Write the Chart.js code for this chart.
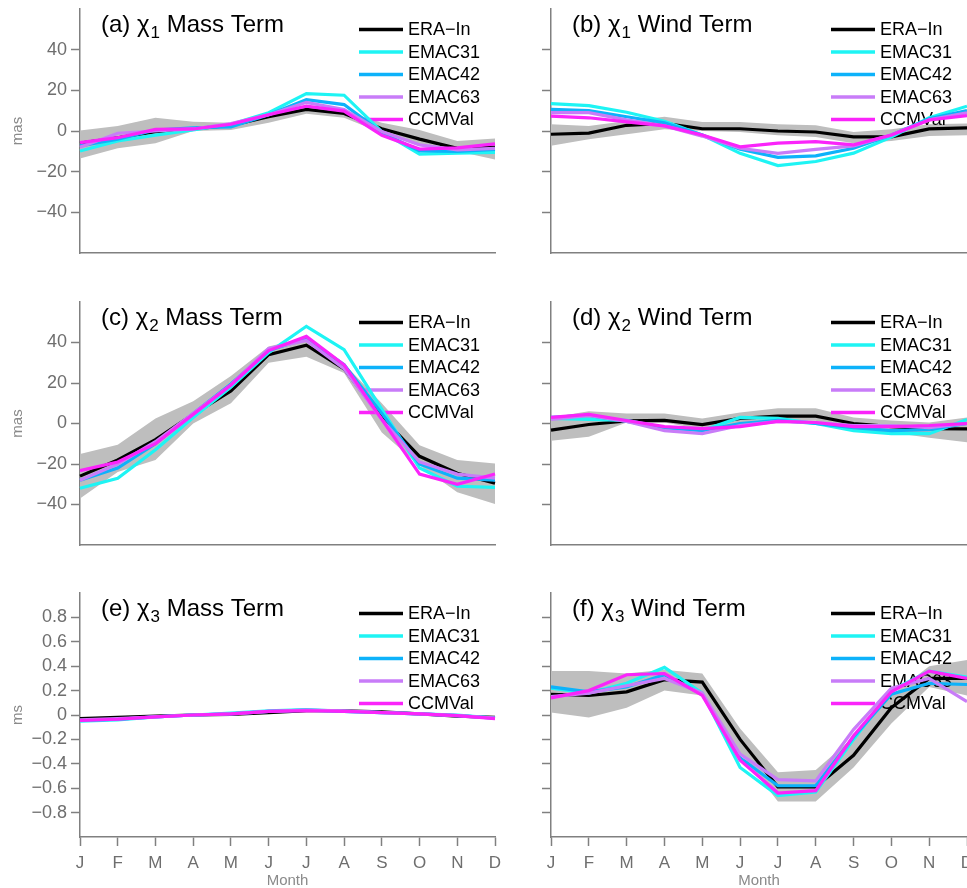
<!DOCTYPE html>
<html>
<head>
<meta charset="utf-8">
<title>χ Mass / Wind Term</title>
<script src="https://cdn.jsdelivr.net/npm/chart.js@4.4.1/dist/chart.umd.min.js"></script>
<style>
    html, body { margin: 0; padding: 0; background: #fff; }
    #wrap { position: relative; width: 967px; height: 888px; overflow: hidden; }
    #wrap canvas { position: absolute; }
</style>
</head>
<body>
<div id="wrap">
    <canvas id="chartA"></canvas>
    <canvas id="chartB"></canvas>
    <canvas id="chartC"></canvas>
    <canvas id="chartD"></canvas>
    <canvas id="chartE"></canvas>
    <canvas id="chartF"></canvas>
</div>
<script>
// Месяцы по оси X
const months = ['J', 'F', 'M', 'A', 'M', 'J', 'J', 'A', 'S', 'O', 'N', 'D'];
const seriesNames = ['ERA−In', 'EMAC31', 'EMAC42', 'EMAC63', 'CCMVal'];

// Деления по оси Y и пределы
const masTicks = [-40, -20, 0, 20, 40];
const masRange = [-60, 60];
const msTicks = [-0.8, -0.6, -0.4, -0.2, 0, 0.2, 0.4, 0.6, 0.8];
const msRange = [-1, 1];

// (a) χ1, массовый член
const chi1MassEra = [-6, -3.3, -0.3, 1, 2.8, 7, 10.6, 8.6, 1.1, -4, -8.5, -8];
const chi1MassEraHi = [0.3, 2.5, 6.5, 4.5, 4, 8.5, 12, 10, 4, 0.5, -4.9, -3.7];
const chi1MassEraLo = [-13.5, -8.5, -6, 0, 0.5, 4, 8.5, 6.5, -1, -7, -10, -14];
const chi1MassEmac31 = [-9.8, -4.9, -2, 0.5, 3.3, 9, 18.4, 17.6, -0.3, -11.4, -10.9, -10.5];
const chi1MassEmac42 = [-7.3, -4, 0.5, 1.6, 2, 8, 15.4, 13, -0.8, -9.8, -10, -9];
const chi1MassEmac63 = [-8, -1.1, 0, 1, 3.6, 8, 14.1, 10.6, -0.3, -6.8, -9.3, -8.5];
const chi1MassCcmval = [-5.7, -3.3, 0.8, 1, 3.3, 8, 12.2, 9.8, -2.1, -8.9, -8.3, -6.3];

// (b) χ1, ветровой член
const chi1WindEra = [-1.6, -1, 2.8, 3.7, 1.1, 1.1, 0, -0.5, -2.9, -2.9, 1, 1.5];
const chi1WindEraHi = [3.3, 2.4, 4.9, 7, 4.4, 4.4, 3.3, 2.8, -0.5, 0.8, 3.3, 3.7];
const chi1WindEraLo = [-7.3, -4.1, -1.6, 0.8, 0, -0.5, -2.1, -2.9, -6, -4.9, -2.4, -2.1];
const chi1WindEmac31 = [13.5, 12.5, 9.2, 4.8, -2, -11, -17, -15, -10.9, -3, 6.5, 12.2];
const chi1WindEmac42 = [10.6, 10, 7, 4, -2, -9, -13, -12.2, -8.5, -2, 6, 10];
const chi1WindEmac63 = [9, 9, 5.5, 2.5, -2.5, -8.5, -11, -9, -7.3, -2, 5.5, 9];
const chi1WindCcmval = [7.3, 6.5, 4.5, 2.5, -2, -7.8, -6, -5.2, -6.8, -2, 5.4, 7.6];

// (c) χ2, массовый член
const chi2MassEra = [-26, -18, -8, 4.5, 16, 34, 38.7, 27, 3, -16.2, -24.6, -29.5];
const chi2MassEraHi = [-15, -10.5, 2.5, 11, 23.5, 38, 42.5, 29.5, 10, -10.7, -18, -19.7];
const chi2MassEraLo = [-37, -24, -18, 0, 10, 30, 33, 25, -4.5, -20.8, -34, -39.7];
const chi2MassEmac31 = [-32, -27, -13, 3, 18, 35, 48, 36.5, 7, -22, -31, -31.5];
const chi2MassEmac42 = [-28, -22, -10, 5, 19.5, 36, 42, 29, 5, -20, -27, -28];
const chi2MassEmac63 = [-28, -20, -9, 5, 19, 37, 41, 27, 2, -19, -25, -27];
const chi2MassCcmval = [-23.3, -19, -10, 4.5, 19, 36, 43, 29, 2, -25, -30, -24.9];

// (d) χ2, ветровой член
const chi2WindEra = [-3.3, -0.5, 1.3, 1.5, -0.5, 2.5, 3.6, 3.6, 0, -1.5, -2.5, -2.7];
const chi2WindEraHi = [3, 6, 5, 5, 2.5, 5.4, 7.5, 7.5, 3, 1.5, 0.5, 3];
const chi2WindEraLo = [-8.5, -6.5, 0.5, 0.5, -2.8, 0, 1.3, 1.3, -3.6, -4.4, -7, -9.3];
const chi2WindEmac31 = [2.5, 2, 1.5, -2, -3.5, 3, 2.5, 0, -3.5, -5, -5, 2];
const chi2WindEmac42 = [3, 4, 1, -2, -3.5, 0, 1.5, 0, -2, -3.5, -3, 0];
const chi2WindEmac63 = [2, 4, 1, -3.5, -5, -1, 1, 0.5, -1, -1, -2, 0];
const chi2WindCcmval = [3, 4.5, 1.5, -1.5, -2.5, -1.5, 1, 0.5, -1.5, -1.5, -1, 0];

// (e) χ3, массовый член
const chi3MassEra = [-0.03, -0.02, -0.01, 0, 0.005, 0.02, 0.035, 0.035, 0.025, 0.01, -0.01, -0.02];
const chi3MassEraHi = [-0.02, -0.01, 0, 0.01, 0.015, 0.03, 0.045, 0.045, 0.035, 0.02, 0, -0.01];
const chi3MassEraLo = [-0.04, -0.03, -0.02, -0.01, -0.005, 0.01, 0.025, 0.025, 0.015, 0, -0.02, -0.03];
const chi3MassEmac31 = [-0.05, -0.04, -0.015, 0, 0.015, 0.035, 0.045, 0.03, 0.02, 0.01, 0, -0.025];
const chi3MassEmac42 = [-0.045, -0.035, -0.015, 0, 0.01, 0.03, 0.04, 0.03, 0.02, 0.01, -0.005, -0.025];
const chi3MassEmac63 = [-0.04, -0.03, -0.015, 0, 0.01, 0.03, 0.04, 0.035, 0.02, 0.01, -0.005, -0.025];
const chi3MassCcmval = [-0.045, -0.035, -0.015, 0, 0.01, 0.03, 0.035, 0.03, 0.02, 0.01, -0.005, -0.03];

// (f) χ3, ветровой член
const chi3WindEra = [0.17, 0.16, 0.19, 0.29, 0.27, -0.2, -0.59, -0.59, -0.33, 0.06, 0.3, 0.3];
const chi3WindEraHi = [0.36, 0.36, 0.34, 0.37, 0.34, -0.11, -0.47, -0.45, -0.18, 0.16, 0.4, 0.45];
const chi3WindEraLo = [0.02, -0.02, 0.06, 0.2, 0.16, -0.31, -0.71, -0.71, -0.43, -0.07, 0.23, 0.16];
const chi3WindEmac31 = [0.22, 0.18, 0.26, 0.39, 0.18, -0.43, -0.66, -0.63, -0.2, 0.2, 0.36, 0.31];
const chi3WindEmac42 = [0.23, 0.19, 0.23, 0.33, 0.17, -0.35, -0.58, -0.58, -0.18, 0.17, 0.26, 0.25];
const chi3WindEmac63 = [0.15, 0.18, 0.24, 0.3, 0.18, -0.32, -0.53, -0.54, -0.12, 0.22, 0.3, 0.11];
const chi3WindCcmval = [0.14, 0.2, 0.33, 0.34, 0.16, -0.37, -0.64, -0.62, -0.17, 0.19, 0.36, 0.3];

// Цвета линий (ERA-In, EMAC31, EMAC42, EMAC63, CCMVal)
const seriesColors = ['#000000', '#1ef4f4', '#0db2fa', '#c87cf8', '#fa24fa'];
const bandColor = '#bebebe';
const axisGray = '#808080';
const tickGray = '#6e6e6e';
const labelGray = '#8a8a8a';
const fontFamily = '"Liberation Sans", Arial, Helvetica, sans-serif';

Chart.defaults.font.family = fontFamily;

// Заголовок панели с нижним индексом у χ
const panelTitle = {
    id: 'panelTitle',
    afterDraw(chart, args, opts) {
        const { ctx, chartArea } = chart;
        let x = chartArea.left + 21;
        const y = chartArea.top + 23;
        ctx.save();
        ctx.fillStyle = '#000';
        ctx.textBaseline = 'alphabetic';
        ctx.font = '24px ' + fontFamily;
        ctx.fillText(opts.head, x, y);
        x += ctx.measureText(opts.head).width + 1;
        ctx.font = '17px ' + fontFamily;
        ctx.fillText(opts.sub, x, y + 6);
        x += ctx.measureText(opts.sub).width;
        ctx.font = '24px ' + fontFamily;
        ctx.fillText(opts.tail, x, y);
        ctx.restore();
    }
};

// Легенда: поверх серой полосы, но под линиями
const panelLegend = {
    id: 'panelLegend',
    afterDatasetDraw(chart, args) {
        if (args.index !== 0) return;
        const { ctx, chartArea } = chart;
        const x1 = chartArea.right - 136;
        const x2 = chartArea.right - 92;
        const tx = chartArea.right - 87;
        ctx.save();
        ctx.font = '18px ' + fontFamily;
        ctx.textBaseline = 'middle';
        ctx.textAlign = 'left';
        seriesNames.forEach((name, i) => {
            const y = chartArea.top + 20.5 + i * 22.5;
            ctx.strokeStyle = seriesColors[i];
            ctx.lineWidth = 3.5;
            ctx.beginPath();
            ctx.moveTo(x1, y);
            ctx.lineTo(x2, y);
            ctx.stroke();
            ctx.fillStyle = '#000';
            ctx.fillText(name, tx, y + 1);
        });
        ctx.restore();
    }
};

function formatTick(v) {
    if (v === 0) return '0';
    return String(v).replace('-', '−');
}

// Геометрия колонок и строк (в пикселях страницы)
const columns = [
    { x: 0, w: 503, axisW: 80, padRight: 8, labels: true },
    { x: 503, w: 464, axisW: 48, padRight: 0, labels: false }
];
const rows = [
    { y: 0, h: 260, padTop: 9, xAxisH: 7, bottom: false },
    { y: 292, h: 260, padTop: 10, xAxisH: 7, bottom: false },
    { y: 583, h: 305, padTop: 10, xAxisH: 51, bottom: true }
];

const panels = [
    { id: 'chartA', col: 0, row: 0, head: '(a) χ', sub: '1', tail: ' Mass Term', unit: 'mas', ticks: masTicks, range: masRange,
      series: [chi1MassEra, chi1MassEmac31, chi1MassEmac42, chi1MassEmac63, chi1MassCcmval], hi: chi1MassEraHi, lo: chi1MassEraLo },
    { id: 'chartB', col: 1, row: 0, head: '(b) χ', sub: '1', tail: ' Wind Term', unit: '', ticks: masTicks, range: masRange,
      series: [chi1WindEra, chi1WindEmac31, chi1WindEmac42, chi1WindEmac63, chi1WindCcmval], hi: chi1WindEraHi, lo: chi1WindEraLo },
    { id: 'chartC', col: 0, row: 1, head: '(c) χ', sub: '2', tail: ' Mass Term', unit: 'mas', ticks: masTicks, range: masRange,
      series: [chi2MassEra, chi2MassEmac31, chi2MassEmac42, chi2MassEmac63, chi2MassCcmval], hi: chi2MassEraHi, lo: chi2MassEraLo },
    { id: 'chartD', col: 1, row: 1, head: '(d) χ', sub: '2', tail: ' Wind Term', unit: '', ticks: masTicks, range: masRange,
      series: [chi2WindEra, chi2WindEmac31, chi2WindEmac42, chi2WindEmac63, chi2WindCcmval], hi: chi2WindEraHi, lo: chi2WindEraLo },
    { id: 'chartE', col: 0, row: 2, head: '(e) χ', sub: '3', tail: ' Mass Term', unit: 'ms', ticks: msTicks, range: msRange,
      series: [chi3MassEra, chi3MassEmac31, chi3MassEmac42, chi3MassEmac63, chi3MassCcmval], hi: chi3MassEraHi, lo: chi3MassEraLo },
    { id: 'chartF', col: 1, row: 2, head: '(f) χ', sub: '3', tail: ' Wind Term', unit: '', ticks: msTicks, range: msRange,
      series: [chi3WindEra, chi3WindEmac31, chi3WindEmac42, chi3WindEmac63, chi3WindCcmval], hi: chi3WindEraHi, lo: chi3WindEraLo }
];

panels.forEach(p => {
    const col = columns[p.col];
    const row = rows[p.row];
    const canvas = document.getElementById(p.id);
    canvas.width = col.w;
    canvas.height = row.h;
    canvas.style.left = col.x + 'px';
    canvas.style.top = row.y + 'px';

    // Серая полоса разброса ERA-In, затем линии моделей (CCMVal сверху)
    const datasets = [
        { data: p.hi, fill: '+1', backgroundColor: bandColor, borderColor: 'rgba(0,0,0,0)', borderWidth: 0, order: 10 },
        { data: p.lo, fill: false, borderColor: 'rgba(0,0,0,0)', borderWidth: 0, order: 11 }
    ];
    p.series.forEach((values, i) => {
        datasets.push({
            label: seriesNames[i],
            data: values,
            borderColor: seriesColors[i],
            borderWidth: 3.2,
            fill: false,
            order: 5 - i
        });
    });

    const tickLine = { display: true, drawOnChartArea: false, drawTicks: true, tickLength: 9, tickColor: axisGray, tickWidth: 1.5 };

    new Chart(canvas.getContext('2d'), {
        type: 'line',
        data: { labels: months, datasets: datasets },
        options: {
            responsive: false,
            animation: false,
            layout: { padding: { top: row.padTop, right: col.padRight, left: 0, bottom: 0 } },
            elements: { line: { tension: 0 }, point: { radius: 0 } },
            plugins: {
                legend: { display: false },
                tooltip: { enabled: false },
                panelTitle: { head: p.head, sub: p.sub, tail: p.tail }
            },
            scales: {
                x: {
                    type: 'category',
                    offset: false,
                    grid: row.bottom ? tickLine : { display: false },
                    border: { display: true, color: axisGray, width: 1.5 },
                    ticks: {
                        display: row.bottom,
                        autoSkip: false,
                        maxRotation: 0,
                        color: tickGray,
                        font: { size: 17 },
                        padding: 7
                    },
                    title: {
                        display: row.bottom,
                        text: 'Month',
                        color: labelGray,
                        font: { size: 15, lineHeight: 1 },
                        padding: 0
                    },
                    afterFit(scale) {
                        scale.height = row.xAxisH;
                        scale.paddingLeft = 0;
                        scale.paddingRight = 0;
                    }
                },
                y: {
                    min: p.range[0],
                    max: p.range[1],
                    afterBuildTicks(scale) {
                        scale.ticks = p.ticks.map(v => ({ value: v }));
                    },
                    grid: tickLine,
                    border: { display: true, color: axisGray, width: 1.5 },
                    ticks: {
                        color: tickGray,
                        font: { size: 18 },
                        padding: 4,
                        callback: v => col.labels ? formatTick(v) : ''
                    },
                    title: {
                        display: !!p.unit,
                        text: p.unit,
                        color: labelGray,
                        font: { size: 15 },
                        padding: { top: 9, bottom: 0 }
                    },
                    afterFit(scale) {
                        scale.width = col.axisW;
                        scale.paddingTop = 0;
                        scale.paddingBottom = 0;
                    }
                }
            }
        },
        plugins: [panelTitle, panelLegend]
    });
});
</script>
</body>
</html>
